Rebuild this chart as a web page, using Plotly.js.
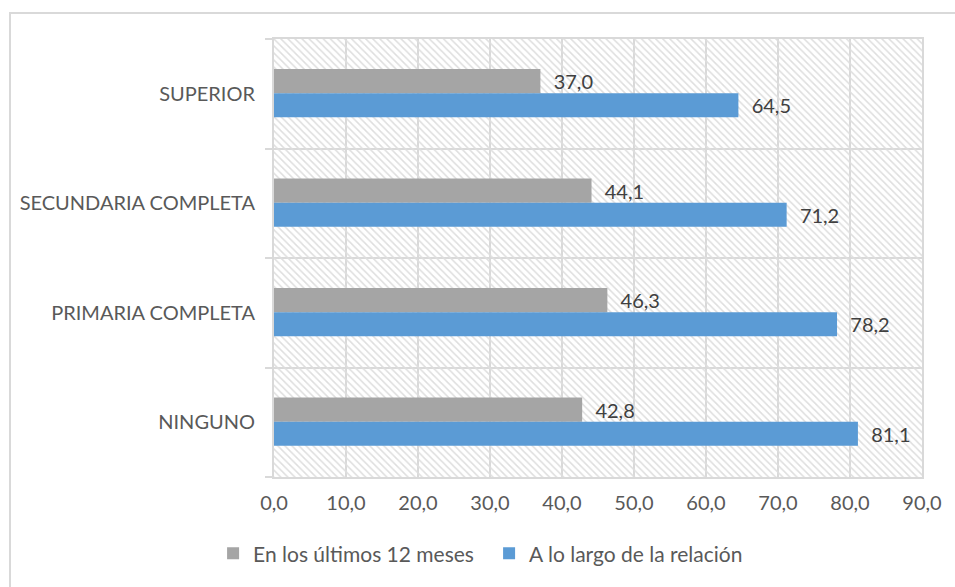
<!DOCTYPE html>
<html>
<head>
<meta charset="utf-8">
<script src="https://cdn.plot.ly/plotly-2.35.2.min.js"></script>
<style>
  html, body { margin: 0; padding: 0; background: #ffffff; }
  #wrap { position: relative; width: 955px; height: 587px; overflow: hidden; }
  #chart { position: absolute; left: 0; top: 0; width: 955px; height: 587px; }
  #frame { position: absolute; left: 9px; top: 12px; width: 960px; height: 600px;
           border-left: 2px solid #d9d9d9; border-top: 2px solid #d9d9d9; pointer-events: none; }
</style>
</head>
<body>
<div id="wrap">
  <div id="chart"></div>
  <div id="frame"></div>
</div>
<script>
// ---- data ----
const categories = ["NINGUNO", "PRIMARIA COMPLETA", "SECUNDARIA COMPLETA", "SUPERIOR"];
const seriesNames = ["En los últimos 12 meses", "A lo largo de la relación"];
const ultimos12 = [42.8, 46.3, 44.1, 37.0];
const largoRelacion = [81.1, 78.2, 71.2, 64.5];
const xTickVals = [0, 10, 20, 30, 40, 50, 60, 70, 80, 90];
const xMax = 90;

const fmt = v => v.toFixed(1).replace('.', ',');
const FONT = "Lato, 'Open Sans', sans-serif";
const FS = 20;

const background = {
  type: 'bar', orientation: 'h',
  y: categories, x: categories.map(() => xMax),
  offset: -0.5, width: 1,
  marker: {
    color: 'rgba(0,0,0,0)',
    line: { width: 0 },
    pattern: { shape: '\\', fgcolor: '#dedede', bgcolor: 'rgba(0,0,0,0)', size: 5, solidity: 0.3, fillmode: 'replace' }
  },
  hoverinfo: 'skip', showlegend: false
};

const gray = {
  type: 'bar', orientation: 'h', name: seriesNames[0],
  y: categories, x: ultimos12,
  offset: 0.005, width: 0.22,
  marker: { color: '#a5a5a5', line: { width: 0 } },
  text: ultimos12.map(v => '\u00a0\u00a0' + fmt(v)),
  textposition: 'outside', cliponaxis: false,
  textfont: { family: FONT, size: FS, color: '#404040' }
};

const blue = {
  type: 'bar', orientation: 'h', name: seriesNames[1],
  y: categories, x: largoRelacion,
  offset: -0.215, width: 0.22,
  marker: { color: '#5b9bd5', line: { width: 0 } },
  text: largoRelacion.map(v => '\u00a0\u00a0' + fmt(v)),
  textposition: 'outside', cliponaxis: false,
  textfont: { family: FONT, size: FS, color: '#404040' }
};

const layout = {
  width: 955, height: 587,
  margin: { l: 274, r: 33, t: 39, b: 110 },
  paper_bgcolor: '#ffffff', plot_bgcolor: '#ffffff',
  font: { family: FONT, size: FS, color: '#595959' },
  separators: ',.',
  barmode: 'group',
  showlegend: true,
  legend: {
    orientation: 'h', x: -0.094, xanchor: 'left', y: -0.175, yanchor: 'middle',
    font: { family: FONT, size: 21, color: '#595959' },
    traceorder: 'normal', itemwidth: 30,
    entrywidth: 231, entrywidthmode: 'pixels'
  },
  xaxis: {
    range: [0, xMax], tickvals: xTickVals, ticktext: xTickVals.map(fmt),
    showgrid: true, gridcolor: '#d9d9d9', gridwidth: 2,
    showline: true, linecolor: '#d9d9d9', linewidth: 2, mirror: true,
    zeroline: false, ticks: '', fixedrange: true, ticklabelstandoff: 7,
    tickfont: { family: FONT, size: FS, color: '#595959' }
  },
  yaxis: {
    type: 'category', categoryorder: 'array', categoryarray: categories,
    range: [-0.5, 3.5], tickson: 'boundaries', ticks: 'outside', ticklen: 7,
    tickcolor: '#d9d9d9', tickwidth: 2,
    showgrid: true, gridcolor: '#d9d9d9', gridwidth: 2,
    showline: true, linecolor: '#d9d9d9', linewidth: 2, mirror: true,
    zeroline: false, fixedrange: true, ticklabelstandoff: 13,
    tickfont: { family: FONT, size: FS, color: '#595959' }
  },
  bargap: 0.56
};

Plotly.newPlot('chart', [background, gray, blue], layout, { staticPlot: true, displayModeBar: false });
</script>
</body>
</html>
